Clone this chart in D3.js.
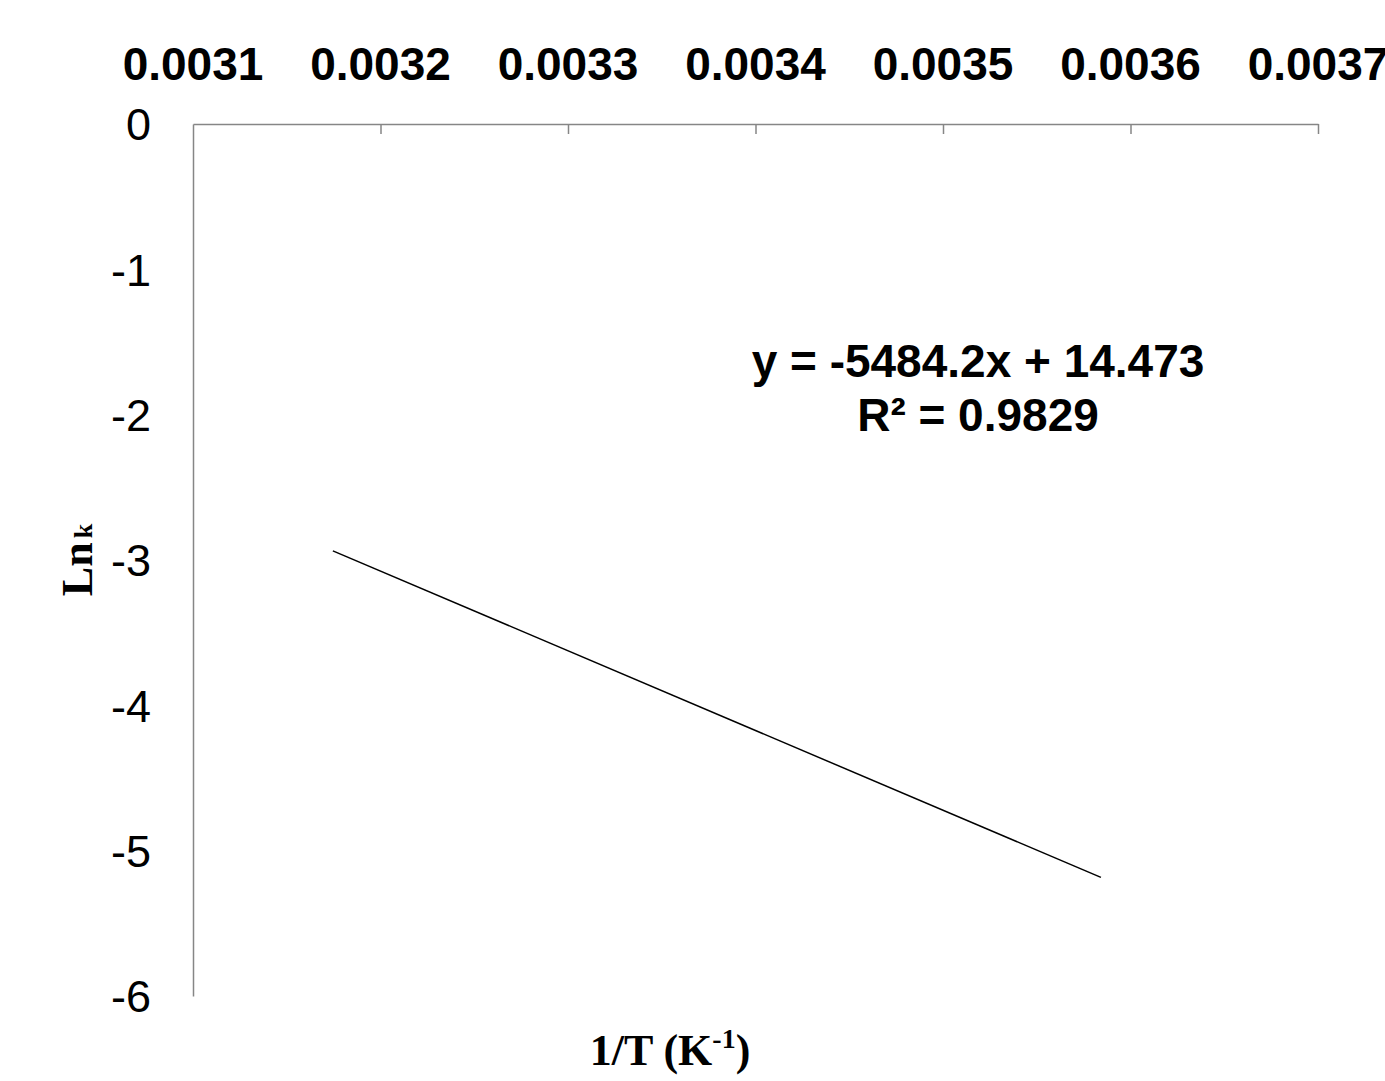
<!DOCTYPE html>
<html>
<head>
<meta charset="utf-8">
<script src="https://cdn.jsdelivr.net/npm/d3@7"></script>
<style>
  html, body { margin: 0; padding: 0; background: #fff; }
  svg { display: block; }
</style>
</head>
<body>
<svg id="chart" width="1385" height="1081"></svg>
<script>
// Arrhenius plot: ln k against 1/T with a linear trendline
const xTicks = [0.0031, 0.0032, 0.0033, 0.0034, 0.0035, 0.0036, 0.0037];
const yTicks = [0, -1, -2, -3, -4, -5, -6];
const fitSlope = -5484.2;
const fitIntercept = 14.473;
const fitR2 = 0.9829;
// 1/T range covered by the fit (315 K down to 279 K)
const fitRange = [1 / 315, 1 / 279];

const svg = d3.select("#chart");
const x = d3.scaleLinear().domain([0.0031, 0.0037]).range([193, 1318]);
const y = d3.scaleLinear().domain([0, -6]).range([124, 996]);

// Top axis placed along y = 0, ticks pointing into the plot
const xAxis = svg.append("g")
  .attr("transform", `translate(0,${y(0)})`)
  .call(d3.axisBottom(x).tickValues(xTicks).tickSize(10).tickSizeOuter(0).tickFormat(""));
xAxis.select(".domain").attr("stroke", "#868686").attr("stroke-width", 1.5);
xAxis.selectAll(".tick line").attr("stroke", "#868686").attr("stroke-width", 1.5);
// Tick at the left end coincides with the y axis line
xAxis.selectAll(".tick").filter(d => d === 0.0031).select("line").remove();

// Top tick labels (the last one runs past the right edge)
svg.append("g").selectAll("text")
  .data(xTicks)
  .join("text")
  .attr("x", d => x(d))
  .attr("y", 80)
  .attr("text-anchor", "middle")
  .attr("font-family", "Liberation Sans, Arial, sans-serif")
  .attr("font-weight", "bold")
  .attr("font-size", 46)
  .text(d => d.toFixed(4));

// Left axis line
const yAxis = svg.append("g")
  .attr("transform", `translate(${x(0.0031)},0)`)
  .call(d3.axisLeft(y).tickValues(yTicks).tickSize(0).tickSizeOuter(0).tickFormat(""));
yAxis.select(".domain").attr("stroke", "#868686").attr("stroke-width", 1.5);

// Left tick labels
svg.append("g").selectAll("text")
  .data(yTicks)
  .join("text")
  .attr("x", 151)
  .attr("y", d => y(d))
  .attr("dy", "0.36em")
  .attr("text-anchor", "end")
  .attr("font-family", "Liberation Sans, Arial, sans-serif")
  .attr("font-size", 45)
  .text(d => d === 0 ? "0" : String(d));

// Trendline
const fitLine = fitRange.map(v => [v, fitSlope * v + fitIntercept]);
svg.append("path")
  .datum(fitLine)
  .attr("fill", "none")
  .attr("stroke", "#000")
  .attr("stroke-width", 1.5)
  .attr("d", d3.line().x(d => x(d[0])).y(d => y(d[1])));

// Equation label
const eq = svg.append("text")
  .attr("text-anchor", "middle")
  .attr("font-family", "Liberation Sans, Arial, sans-serif")
  .attr("font-weight", "bold")
  .attr("font-size", 46);
eq.append("tspan").attr("x", 978).attr("y", 377)
  .text(`y = ${fitSlope}x + ${fitIntercept}`);
eq.append("tspan").attr("x", 978).attr("y", 431)
  .text(`R² = ${fitR2}`);

// Y axis title
const yTitle = svg.append("text")
  .attr("transform", "translate(92,560) rotate(-90)")
  .attr("text-anchor", "middle")
  .attr("font-family", "Liberation Serif, Times New Roman, serif")
  .attr("font-weight", "bold");
yTitle.append("tspan").attr("font-size", 44).text("Ln");
yTitle.append("tspan").attr("font-size", 26).attr("dx", 4).text("k");

// X axis title
const xTitle = svg.append("text")
  .attr("x", 670)
  .attr("y", 1065)
  .attr("text-anchor", "middle")
  .attr("font-family", "Liberation Serif, Times New Roman, serif")
  .attr("font-weight", "bold")
  .attr("font-size", 44);
xTitle.append("tspan").text("1/T (K");
xTitle.append("tspan").attr("font-size", 28).attr("dy", -17).text("-1");
xTitle.append("tspan").attr("dy", 17).text(")");
</script>
</body>
</html>
